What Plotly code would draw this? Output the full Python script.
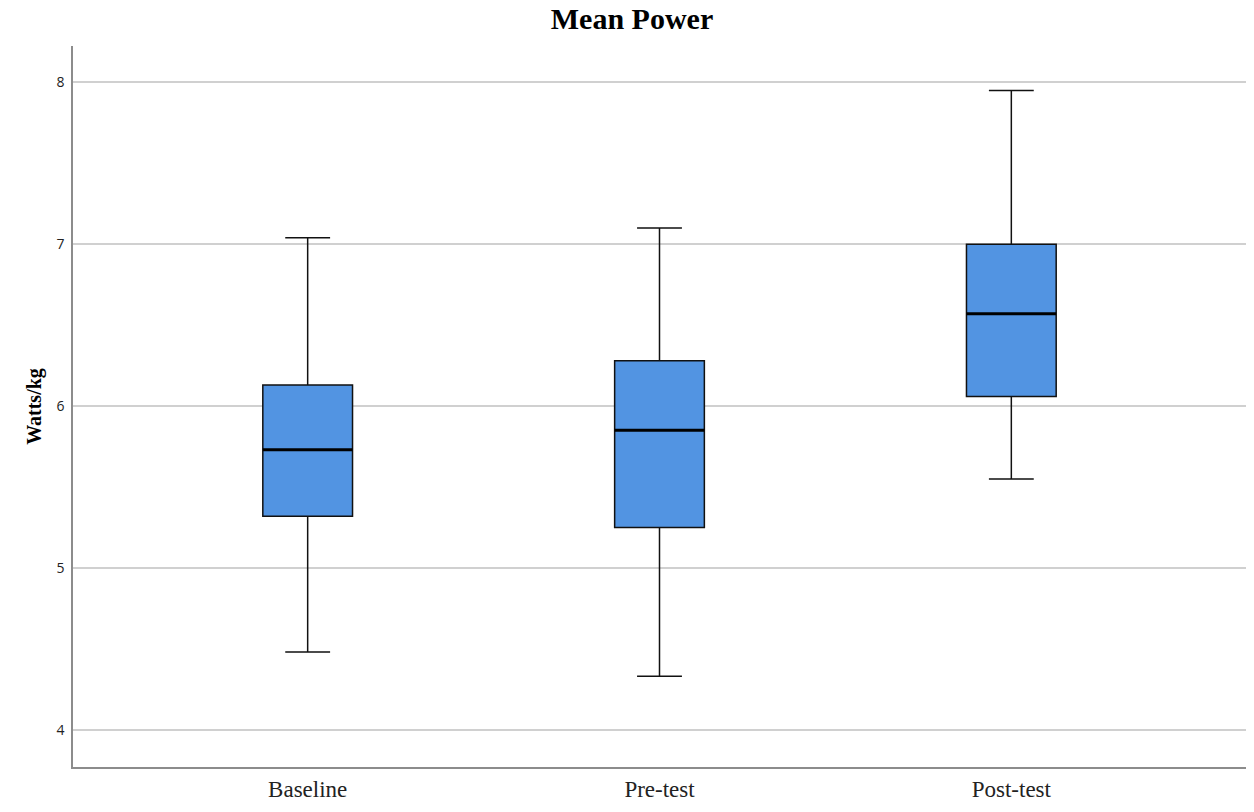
import plotly.graph_objects as go

categories = ["Baseline", "Pre-test", "Post-test"]
lower_whisker = [4.48, 4.33, 5.55]
q1 = [5.32, 5.25, 6.06]
median = [5.73, 5.85, 6.57]
q3 = [6.13, 6.28, 7.00]
upper_whisker = [7.04, 7.10, 7.95]
y_ticks = [4, 5, 6, 7, 8]

xpos = list(range(len(categories)))
box_w = 0.255

fig = go.Figure()
fig.add_trace(go.Box(
    x=xpos, q1=q1, median=median, q3=q3,
    lowerfence=lower_whisker, upperfence=upper_whisker,
    width=box_w, whiskerwidth=0.5,
    fillcolor="#5294e2", line=dict(color="#111111", width=1.5),
    boxpoints=False, showlegend=False, hoverinfo="skip",
))
# thicker median lines
for x, m in zip(xpos, median):
    fig.add_trace(go.Scatter(
        x=[x - box_w / 2, x + box_w / 2], y=[m, m], mode="lines",
        line=dict(color="black", width=3), showlegend=False, hoverinfo="skip",
    ))

fig.update_layout(
    width=1254, height=812,
    margin=dict(l=73, r=8, t=46, b=45),
    paper_bgcolor="white", plot_bgcolor="white",
    title=dict(text="<b>Mean Power</b>", x=0.504, xanchor="center", y=0.977, yanchor="middle",
               font=dict(family="Liberation Serif", size=30, color="black")),
    xaxis=dict(range=[-0.667, 2.667], tickvals=xpos, ticktext=categories,
               showgrid=False, zeroline=False, showline=True, linecolor="#8c8c8c", linewidth=1.5,
               ticks="", ticklabelstandoff=1,
               tickfont=dict(family="Liberation Serif", size=23, color="#222")),
    yaxis=dict(range=[3.77, 8.225], tickvals=y_ticks, showgrid=True, gridcolor="#d0d0d0", gridwidth=1.5,
               zeroline=False, showline=True, linecolor="#8c8c8c", linewidth=1.5,
               ticks="", ticklabelstandoff=4,
               tickfont=dict(family="Open Sans", size=14, color="#222"),
               title=dict(text="<b>Watts/kg</b>", standoff=9,
                          font=dict(family="Liberation Serif", size=20, color="black"))),
)

fig.write_html("out.html", config={"displayModeBar": False},
               post_script="document.body.style.margin='0';")
